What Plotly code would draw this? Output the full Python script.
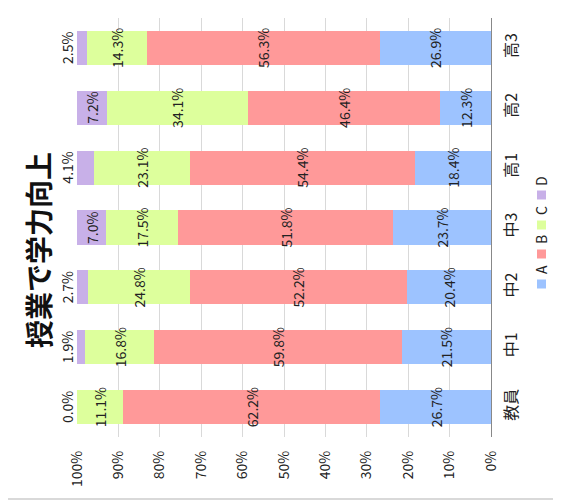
import plotly.graph_objects as go

# Data (percent of respondents)
categories = ['教員', '中1', '中2', '中3', '高1', '高2', '高3']
series_names = ['A', 'B', 'C', 'D']
a_vals = [26.7, 21.5, 20.4, 23.7, 18.4, 12.3, 26.9]
b_vals = [62.2, 59.8, 52.2, 51.8, 54.4, 46.4, 56.3]
c_vals = [11.1, 16.8, 24.8, 17.5, 23.1, 34.1, 14.3]
d_vals = [0.0, 1.9, 2.7, 7.0, 4.1, 7.2, 2.5]
pct_ticks = [0, 10, 20, 30, 40, 50, 60, 70, 80, 90, 100]

colors = ['#9dc3ff', '#ff9999', '#ddff9c', '#c8b0e8']
font = 'Noto Sans CJK JP'

# page body has an 8px margin, so work in page pixels and shift
OFF = 8
W, H = 561 - OFF, 502 - OFF
L, T = 77 - OFF, 18 - OFF
R, B = W - (491 - OFF), H - (437 - OFF)
pw, ph = W - L - R, H - T - B


def px_x(x):
    return (x - OFF - L) / pw


def px_y(y):
    return (H - B - (y - OFF)) / ph


fig = go.Figure()
for name, vals, col in zip(series_names, [a_vals, b_vals, c_vals, d_vals], colors):
    fig.add_trace(go.Bar(
        name=name, y=categories, x=vals, orientation='h',
        marker=dict(color=col, line=dict(width=0)),
        text=[f'{v:.1f}%' for v in vals],
        textposition='inside' if name != 'D' else 'none',
        textangle=-90, insidetextanchor='middle',
        textfont=dict(family=font, size=14, color='#222'),
        showlegend=False,
    ))

# D labels: inside when there is room, otherwise just past the bar end
for i, cat in enumerate(categories):
    total = min(a_vals[i] + b_vals[i] + c_vals[i] + d_vals[i], 100)
    d = d_vals[i]
    if d >= 5:
        xpos, shift = total - d / 2, 0
    else:
        xpos, shift = total, -10
    fig.add_annotation(text=f'{d:.1f}%', textangle=-90, xref='x', yref='y',
                       x=xpos, y=cat, xshift=shift, showarrow=False,
                       xanchor='center', yanchor='middle',
                       font=dict(size=14, family=font, color='#222'))

fig.update_layout(
    width=W, height=H,
    margin=dict(l=L, r=R, t=T, b=B),
    barmode='stack', bargap=0.43,
    plot_bgcolor='white', paper_bgcolor='white',
    font=dict(family=font, color='#222'),
    uniformtext=dict(minsize=14, mode='show'),
    xaxis=dict(range=[100, 0], tickvals=pct_ticks,
               ticktext=[f'{v}%' for v in pct_ticks],
               tickangle=-90, showgrid=True, gridcolor='#d9d9d9',
               zeroline=False, showline=False, ticklabelstandoff=10,
               tickfont=dict(size=14, family=font)),
    yaxis=dict(side='right', showline=True, linecolor='#888', linewidth=1,
               tickangle=-90, showgrid=False, ticklabelstandoff=6,
               tickfont=dict(size=16, family=font)),
)

# title, rotated like the rest of the chart
fig.add_annotation(text='<b>授業で学力向上</b>', textangle=-90,
                   xref='paper', yref='paper', x=px_x(38), y=px_y(250),
                   xanchor='center', yanchor='middle',
                   showarrow=False, font=dict(size=28, family=font, color='#111'))

# rotated legend
legend_y = [284, 254, 225, 195]
for name, col, yy in zip(series_names, colors, legend_y):
    fig.add_shape(type='rect', xref='paper', yref='paper',
                  x0=px_x(537), x1=px_x(546), y0=px_y(yy - 4.5), y1=px_y(yy + 4.5),
                  fillcolor=col, line=dict(width=0))
    fig.add_annotation(text=name, textangle=-90, xref='paper', yref='paper',
                       x=px_x(541), y=px_y(yy - 14), showarrow=False,
                       xanchor='center', yanchor='middle',
                       font=dict(size=14, family=font, color='#222'))

# bottom edge of the chart frame
fig.add_shape(type='line', xref='paper', yref='paper',
              x0=px_x(8), x1=px_x(561), y0=px_y(499), y1=px_y(499),
              line=dict(color='#d9d9d9', width=2))

fig.write_html('out.html')
